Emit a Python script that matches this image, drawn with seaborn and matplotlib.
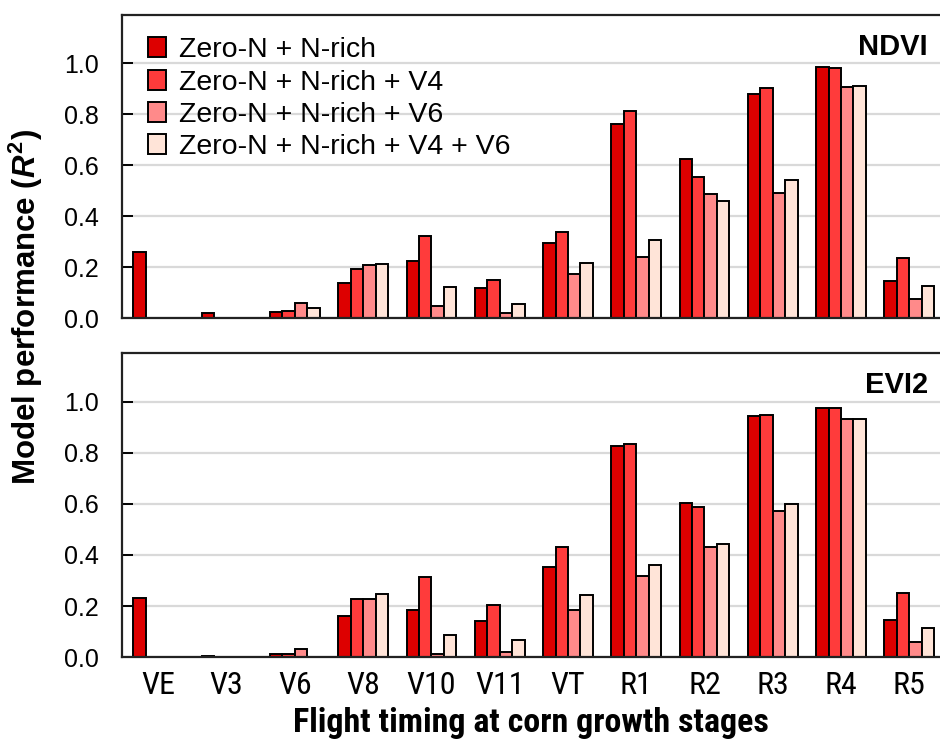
import pandas as pd
import matplotlib.pyplot as plt
import seaborn as sns
import numpy as np
from matplotlib.patches import Patch

# Growth stages and model combinations
stages = ['VE', 'V3', 'V6', 'V8', 'V10', 'V11', 'VT', 'R1', 'R2', 'R3', 'R4', 'R5']
models = ['Zero-N + N-rich', 'Zero-N + N-rich + V4',
          'Zero-N + N-rich + V6', 'Zero-N + N-rich + V4 + V6']

nan = np.nan
# R2 values (one list per model)
ndvi_m1 = [0.26, 0.02, 0.025, 0.14, 0.226, 0.118, 0.294, 0.762, 0.624, 0.880, 0.984, 0.146]
ndvi_m2 = [nan, nan, 0.030, 0.192, 0.322, 0.150, 0.340, 0.814, 0.554, 0.903, 0.980, 0.235]
ndvi_m3 = [nan, nan, 0.059, 0.207, 0.048, 0.021, 0.173, 0.240, 0.489, 0.491, 0.905, 0.076]
ndvi_m4 = [nan, nan, 0.040, 0.213, 0.122, 0.055, 0.216, 0.307, 0.459, 0.542, 0.910, 0.128]

evi2_m1 = [0.233, 0.004, 0.013, 0.162, 0.184, 0.142, 0.354, 0.825, 0.603, 0.944, 0.976, 0.146]
evi2_m2 = [nan, nan, 0.013, 0.229, 0.314, 0.203, 0.431, 0.835, 0.587, 0.946, 0.976, 0.252]
evi2_m3 = [nan, nan, 0.031, 0.229, 0.014, 0.021, 0.183, 0.318, 0.429, 0.570, 0.932, 0.058]
evi2_m4 = [nan, nan, nan, 0.247, 0.085, 0.068, 0.243, 0.361, 0.443, 0.599, 0.932, 0.114]

colors = ['#DD0000', '#FF3B3B', '#FF8A8A', '#FFE4D8']


def to_long(series_list):
    rows = []
    for model, vals in zip(models, series_list):
        for stage, v in zip(stages, vals):
            rows.append({'stage': stage, 'model': model, 'r2': v})
    return pd.DataFrame(rows)


df_ndvi = to_long([ndvi_m1, ndvi_m2, ndvi_m3, ndvi_m4])
df_evi2 = to_long([evi2_m1, evi2_m2, evi2_m3, evi2_m4])

sns.set_theme(style="white")
plt.rcParams['font.family'] = ['Liberation Sans', 'DejaVu Sans']
plt.rcParams['text.color'] = 'black'
plt.rcParams['xtick.color'] = 'black'
plt.rcParams['ytick.color'] = 'black'
plt.rcParams['axes.labelcolor'] = 'black'
plt.rcParams['ytick.left'] = True
plt.rcParams['ytick.direction'] = 'in'
plt.rcParams['ytick.major.pad'] = 17
plt.rcParams['mathtext.fontset'] = 'custom'
plt.rcParams['mathtext.rm'] = 'Liberation Sans:bold'
plt.rcParams['mathtext.it'] = 'Liberation Sans:italic:bold'
plt.rcParams['mathtext.bf'] = 'Liberation Sans:bold'
narrow = ['Liberation Sans Narrow', 'Arial Narrow', 'Roboto Condensed',
          'Encode Sans Condensed', 'DejaVu Sans']

fig = plt.figure(figsize=(9.4, 7.4), dpi=100)
ax_top = fig.add_axes([0.13, 0.570, 0.87, 0.410])
ax_bot = fig.add_axes([0.13, 0.112, 0.87, 0.411])

for ax, df, tag in [(ax_top, df_ndvi, 'NDVI'), (ax_bot, df_evi2, 'EVI2')]:
    ax.set_axisbelow(True)
    ax.yaxis.grid(True, color='#D9D9D9', linewidth=1.6)
    sns.barplot(data=df, x='stage', y='r2', hue='model', hue_order=models,
                palette=colors, width=0.73, gap=0, edgecolor='black',
                linewidth=1.4, saturation=1, legend=False, ax=ax)
    ax.set_ylim(0, 1.19)
    ax.set_xlim(-0.53, 11.45)
    ax.set_yticks(np.arange(0, 1.01, 0.2))
    ax.set_yticklabels([f"{v:.1f}" for v in np.arange(0, 1.01, 0.2)], fontsize=18)
    ax.tick_params(axis='y', left=True, direction='in', length=8, width=1.4,
                   color='black', pad=17)
    ax.tick_params(axis='x', length=0)
    for side in ['top', 'left', 'bottom']:
        ax.spines[side].set_color('#222222')
        ax.spines[side].set_linewidth(1.6)
    ax.spines['right'].set_visible(False)
    ax.set_xlabel('')
    ax.set_ylabel('')
    ax.text(0.985, 0.895, tag, transform=ax.transAxes, ha='right', va='center',
            fontsize=21, fontweight='bold')

ax_top.set_xticklabels([])
ax_bot.set_xticklabels(stages, fontsize=23, family=narrow)
ax_bot.tick_params(axis='x', pad=10)
ax_bot.set_xlabel('Flight timing at corn growth stages', fontsize=24.5,
                  fontweight='bold', family=narrow, labelpad=5)

fig.text(0.028, 0.585, 'Model performance ($\\mathit{R}^2$)', rotation=90,
         ha='center', va='center', fontsize=22.5, fontweight='bold')

handles = [Patch(facecolor=c, edgecolor='black', linewidth=1.4) for c in colors]
ax_top.legend(handles, models, loc='upper left', bbox_to_anchor=(0.0, 1.01),
              frameon=False, fontsize=20.5, handlelength=0.65, handleheight=0.7,
              handletextpad=0.45, labelspacing=0.22, borderaxespad=0.5)

plt.savefig('out.png', dpi=100)
plt.close()
